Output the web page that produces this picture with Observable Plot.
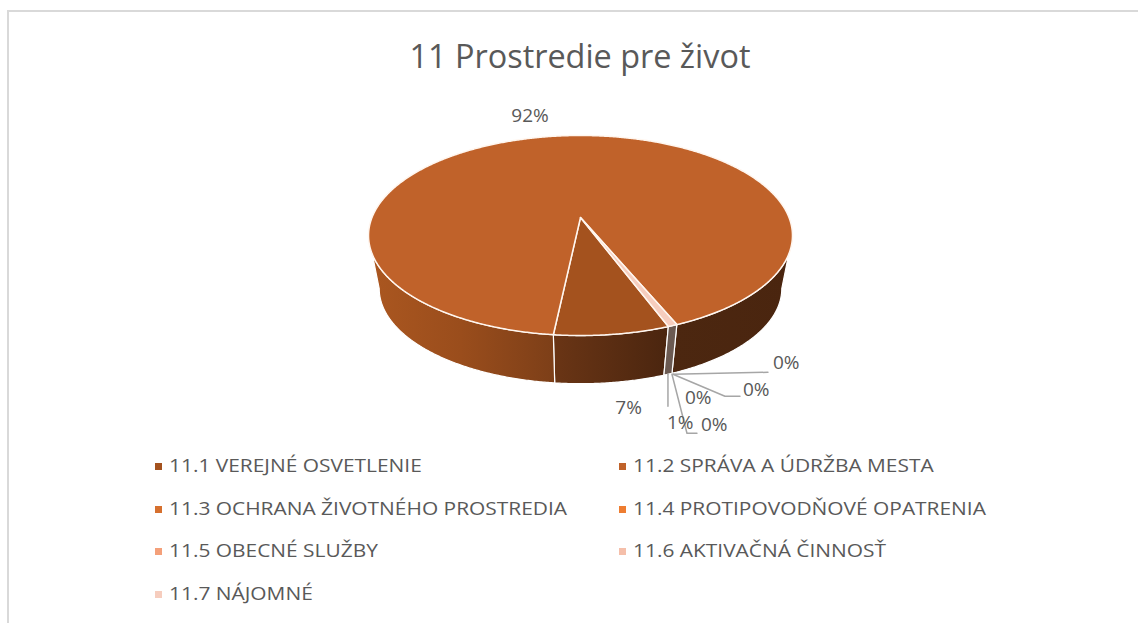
<!DOCTYPE html>
<html>
<head>
<meta charset="utf-8">
<script src="https://cdn.jsdelivr.net/npm/d3@7"></script>
<script src="https://cdn.jsdelivr.net/npm/@observablehq/plot@0.6"></script>
<style>
  html, body { margin: 0; padding: 0; background: #fff; }
  #root { position: relative; width: 1138px; height: 623px; overflow: hidden; background: #fff; font-family: "Open Sans", Lato, sans-serif; color: #595959; }
  #frame { position: absolute; left: 7px; top: 10px; width: 1200px; height: 700px; border-left: 2px solid #D9D9D9; border-top: 2px solid #D9D9D9; }
  #title { position: absolute; left: 0; width: 1160px; top: 39px; text-align: center; font-size: 32.4px; line-height: 32px; white-space: nowrap; }
  #chart { position: absolute; left: 0; top: 0; }
  .lg-item { position: absolute; font-size: 19px; line-height: 19px; white-space: nowrap; transform: scaleX(1.1); transform-origin: 0 50%; }
  .lg-sw { position: absolute; width: 7px; height: 7px; }
</style>
</head>
<body>
<div id="root">
  <div id="frame"></div>
  <div id="chart"></div>
  <div id="title"></div>
  <div id="legend"></div>
</div>
<script>
// ---------- data ----------
const chartTitle = "11 Prostredie pre život";
const categories = [
  "11.1 VEREJNÉ OSVETLENIE",
  "11.2 SPRÁVA A ÚDRŽBA MESTA",
  "11.3 OCHRANA ŽIVOTNÉHO PROSTREDIA",
  "11.4 PROTIPOVODŇOVÉ OPATRENIA",
  "11.5 OBECNÉ SLUŽBY",
  "11.6 AKTIVAČNÁ ČINNOSŤ",
  "11.7 NÁJOMNÉ"
];
const shares = [7.4, 92.0, 0, 0, 0, 0, 0.6];

// ---------- styles ----------
const colors = ["#A4521E", "#C0622A", "#D6702E", "#EE7D31", "#F4A07A", "#F5BFAA", "#F6CDBE"];
const sideFills = ["url(#side1)", "url(#side2)", "#8A4A20", "#9A5524", "#A06A55", "#7A6660", "#6B5A52"];
const labelColor = "#595959";
const leaderColor = "#A6A6A6";
const fontFamily = "Open Sans";

// ---------- layout ----------
const W = 1138, H = 623;
const CX = 580;
const K = 0.18;                       // perspective strength
const TOP = {A: 208.5, B: 96.8, cy: 217};
const BOT = {A: 198, B: 92, cy: 271};
const ROT = 69.5 * Math.PI / 180;     // first slice angle
// label offsets from anchor: [dx, dy, anchor]
const labelOffsets = [[18, 25, "middle"], [-25, -20, "middle"], [105, -11, "start"], [75, 16, "start"], [17, 24, "start"], [33, 51, "start"], [-1, 49, "start"]];
const leaderPaths = [null, null, [[5, 0], [100, -2]], [[5, 0], [57, 22], [72, 22]], null, [[4, 0], [19, 59], [29, 59]], [[0, 0], [0, 32]]];

function P(t, r, g) {
  const u = r * Math.cos(t), v = r * Math.sin(t);
  const d = 1 - K * v;
  return [CX + g.A * u / d, g.cy + g.B * v / d];
}
function arc(a, b, g) {
  const n = Math.max(2, Math.ceil(Math.abs(b - a) / (0.4 * Math.PI / 180)));
  const pts = [];
  for (let i = 0; i <= n; i++) pts.push(P(a + (b - a) * i / n, 1, g));
  return pts;
}

const arcs = d3.pie().sort(null).value(d => d)(shares);
const slices = categories.map((c, i) => ({
  i, cat: c, value: shares[i],
  a0: ROT + arcs[i].startAngle, a1: ROT + arcs[i].endAngle,
  label: Math.round(shares[i]) + "%"
}));

const TV0 = Math.asin(K), TV1 = Math.PI - Math.asin(K);
const sidePolys = [];
const topPolys = [];
for (const s of slices) {
  if (s.value <= 0) continue;
  for (const n of [0, 1]) {
    const s0 = Math.max(s.a0, TV0 + 2 * Math.PI * n);
    const s1 = Math.min(s.a1, TV1 + 2 * Math.PI * n);
    if (s1 > s0) sidePolys.push({fill: sideFills[s.i], pts: [...arc(s0, s1, TOP), ...arc(s1, s0, BOT)]});
  }
  topPolys.push({fill: colors[s.i], pts: [P(0, 0, TOP), ...arc(s.a0, s.a1, TOP)]});
}

// anchors for labels
const clusterMid = (slices[6].a0 + slices[6].a1) / 2;
const labelData = slices.map((s, i) => {
  let mid = (s.a0 + s.a1) / 2;
  if (leaderPaths[i] || s.value === 0) mid = clusterMid;
  const front = Math.sin(mid) > 0;
  const [ax, ay] = P(mid, 1, front ? BOT : TOP);
  const [dx, dy, anchor] = labelOffsets[i];
  return {i, label: s.label, ax, ay, x: ax + dx, y: ay + dy, anchor};
});
const leaders = [];
labelData.forEach(d => {
  const p = leaderPaths[d.i];
  if (p) leaders.push(p.map(([dx, dy]) => [d.ax + dx, d.ay + dy]));
});

const xy = {x: d => d[0], y: d => d[1]};
const chart = Plot.plot({
  width: W, height: H, margin: 0,
  x: {domain: [0, W], range: [0, W], axis: null},
  y: {domain: [0, H], range: [0, H], axis: null},
  marks: [
    ...sidePolys.map(p => Plot.line(p.pts, {...xy, fill: p.fill, stroke: "#FFFFFF", strokeWidth: 1.2, curve: "linear-closed"})),
    ...topPolys.map(p => Plot.line(p.pts, {...xy, fill: p.fill, stroke: "#FFF6EF", strokeWidth: 1.5, curve: "linear-closed"})),
    ...leaders.map(l => Plot.line(l, {...xy, stroke: leaderColor, strokeWidth: 1.5})),
    Plot.text(labelData.filter(d => d.anchor === "middle"), {x: "x", y: "y", text: "label", textAnchor: "middle", fontSize: 19, fill: labelColor, fontFamily}),
    Plot.text(labelData.filter(d => d.anchor === "start"), {x: "x", y: "y", text: "label", textAnchor: "start", fontSize: 19, fill: labelColor, fontFamily})
  ]
});

const X0 = P(TV1, 1, TOP)[0], X1 = P(TV0, 1, TOP)[0];
const off = x => ((x - X0) / (X1 - X0)).toFixed(3);
d3.select(chart).insert("defs", ":first-child").html(`
  <linearGradient id="side2" gradientUnits="userSpaceOnUse" x1="${X0}" y1="0" x2="${X1}" y2="0">
    <stop offset="0" stop-color="#AB5720"/>
    <stop offset="${off(460)}" stop-color="#9A4D1C"/>
    <stop offset="${off(553)}" stop-color="#7D3F18"/>
    <stop offset="${off(620)}" stop-color="#5C2E12"/>
    <stop offset="${off(670)}" stop-color="#4C2710"/>
    <stop offset="1" stop-color="#4A250F"/>
  </linearGradient>
  <linearGradient id="side1" gradientUnits="userSpaceOnUse" x1="${X0}" y1="0" x2="${X1}" y2="0">
    <stop offset="0" stop-color="#8A441A"/>
    <stop offset="${off(553)}" stop-color="#6A3515"/>
    <stop offset="${off(670)}" stop-color="#4A250F"/>
    <stop offset="1" stop-color="#4A250F"/>
  </linearGradient>`);
document.getElementById("chart").appendChild(chart);

document.getElementById("title").textContent = chartTitle;

// legend
const legend = document.getElementById("legend");
const colX = [155, 619], textGap = 14, row0 = 466, rowGap = 42.7;
categories.forEach((c, i) => {
  const col = i % 2, row = Math.floor(i / 2);
  const cy = row0 + row * rowGap;
  const sw = document.createElement("div");
  sw.className = "lg-sw";
  sw.style.left = colX[col] + "px";
  sw.style.top = (cy - 3) + "px";
  sw.style.background = colors[i];
  legend.appendChild(sw);
  const t = document.createElement("div");
  t.className = "lg-item";
  t.style.left = (colX[col] + textGap) + "px";
  t.style.top = (cy - 10) + "px";
  t.textContent = c;
  legend.appendChild(t);
});
</script>
</body>
</html>
